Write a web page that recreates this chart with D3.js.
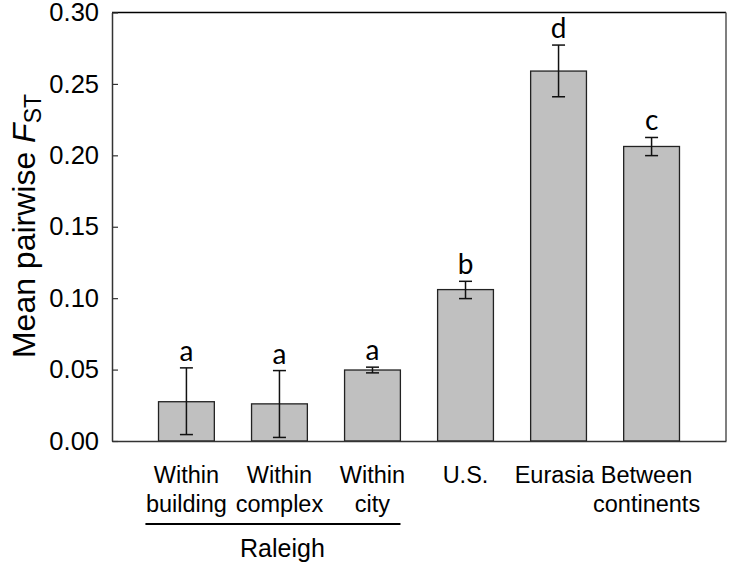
<!DOCTYPE html>
<html>
<head>
<meta charset="utf-8">
<script src="https://cdn.jsdelivr.net/npm/d3@7"></script>
<style>
  html, body { margin: 0; padding: 0; background: #fff; }
  svg { display: block; }
  text { font-family: "Liberation Sans", Arial, sans-serif; fill: #000; }
</style>
</head>
<body>
<svg id="chart" width="730" height="568"></svg>
<script>
// ---- data ----
const categories = ["Within building", "Within complex", "Within city", "U.S.", "Eurasia", "Between continents"];
const categoryLines = [["Within", "building"], ["Within", "complex"], ["Within", "city"], ["U.S."], ["Eurasia"], ["Between", "continents"]];
const meanFst = [0.0275, 0.0260, 0.0497, 0.1060, 0.2590, 0.2062];
const errLow  = [0.0045, 0.0025, 0.0477, 0.0997, 0.2410, 0.1998];
const errHigh = [0.0512, 0.0493, 0.0517, 0.1118, 0.2772, 0.2125];
const groupLetters = ["a", "a", "a", "b", "d", "c"];
const yTicks = [0.00, 0.05, 0.10, 0.15, 0.20, 0.25, 0.30];
const groupLabel = "Raleigh";
const groupMembers = ["Within building", "Within complex", "Within city"];

// ---- layout ----
const svg = d3.select("#chart");
const mLeft = 112, mRight = 726, mTop = 12.5, mBottom = 441;

const x = d3.scaleBand().domain(categories).range([mLeft, mRight]).paddingInner(0.4).paddingOuter(0.5);
const y = d3.scaleLinear().domain([0, 0.30]).range([mBottom, mTop]);
const cx = d => x(d) + x.bandwidth() / 2;

// frame top & right
svg.append("line").attr("x1", mLeft).attr("x2", mRight).attr("y1", mTop).attr("y2", mTop)
  .attr("stroke", "#000").attr("stroke-width", 1.5);
svg.append("line").attr("x1", mRight).attr("x2", mRight).attr("y1", mTop).attr("y2", mBottom)
  .attr("stroke", "#555").attr("stroke-width", 1.5);

// bars
svg.append("g").selectAll("rect").data(categories).join("rect")
  .attr("x", d => x(d))
  .attr("y", (d, i) => y(meanFst[i]))
  .attr("width", x.bandwidth())
  .attr("height", (d, i) => y(0) - y(meanFst[i]))
  .attr("fill", "#c0c0c0")
  .attr("stroke", "#222")
  .attr("stroke-width", 1.3);

// error bars
const cap = 6.5;
const eg = svg.append("g").attr("stroke", "#111").attr("stroke-width", 1.5);
categories.forEach((c, i) => {
  const xc = cx(c);
  eg.append("line").attr("x1", xc).attr("x2", xc).attr("y1", y(errLow[i])).attr("y2", y(errHigh[i]));
  eg.append("line").attr("x1", xc - cap).attr("x2", xc + cap).attr("y1", y(errLow[i])).attr("y2", y(errLow[i]));
  eg.append("line").attr("x1", xc - cap).attr("x2", xc + cap).attr("y1", y(errHigh[i])).attr("y2", y(errHigh[i]));
});

// significance letters
svg.append("g").selectAll("text").data(categories).join("text")
  .attr("x", d => cx(d))
  .attr("y", (d, i) => y(errHigh[i]) - 7)
  .attr("text-anchor", "middle")
  .style("font-family", "Lato, 'Open Sans', sans-serif")
  .style("font-size", "28px")
  .text((d, i) => groupLetters[i]);

// y axis
const yAxis = d3.axisLeft(y).tickValues(yTicks).tickFormat(d3.format(".2f"))
  .tickSizeInner(-6).tickSizeOuter(0).tickPadding(13);
const yg = svg.append("g").attr("transform", `translate(${mLeft},0)`).call(yAxis);
yg.select(".domain").attr("stroke", "#333").attr("stroke-width", 1.5);
yg.selectAll(".tick line").attr("stroke", "#333").attr("stroke-width", 1.2);
yg.selectAll(".tick text").style("font-family", "'Liberation Sans', Arial, sans-serif").style("font-size", "25.5px").attr("fill", "#000");

// x axis
const xAxis = d3.axisBottom(x).tickSize(0).tickFormat("");
const xg = svg.append("g").attr("transform", `translate(0,${mBottom})`).call(xAxis);
xg.select(".domain").attr("stroke", "#333").attr("stroke-width", 1.5);

// category labels
const shift = [0, 0, 0, 0, -4, -5];
const lab = svg.append("g").attr("text-anchor", "middle").style("font-size", "23.5px");
categories.forEach((c, i) => {
  const t = lab.append("text").attr("x", cx(c) + shift[i]).attr("y", 483);
  categoryLines[i].forEach((ln, j) => {
    t.append("tspan").attr("x", cx(c) + shift[i]).attr("dy", j === 0 ? 0 : 29).text(ln);
  });
});

// group bracket
const g0 = cx(groupMembers[0]) - 41;
const g1 = cx(groupMembers[groupMembers.length - 1]) + 28;
svg.append("line").attr("x1", g0).attr("x2", g1).attr("y1", 524).attr("y2", 524)
  .attr("stroke", "#000").attr("stroke-width", 2);
svg.append("text").attr("x", cx(groupMembers[1]) + 3).attr("y", 557)
  .attr("text-anchor", "middle").style("font-size", "25px").text(groupLabel);

// y title
const yt = svg.append("text")
  .attr("transform", `translate(35,226) rotate(-90)`)
  .attr("text-anchor", "middle")
  .style("font-size", "32px");
yt.append("tspan").text("Mean pairwise ");
yt.append("tspan").style("font-style", "italic").text("F");
yt.append("tspan").attr("dy", 6).style("font-size", "23px").text("ST");
</script>
</body>
</html>
